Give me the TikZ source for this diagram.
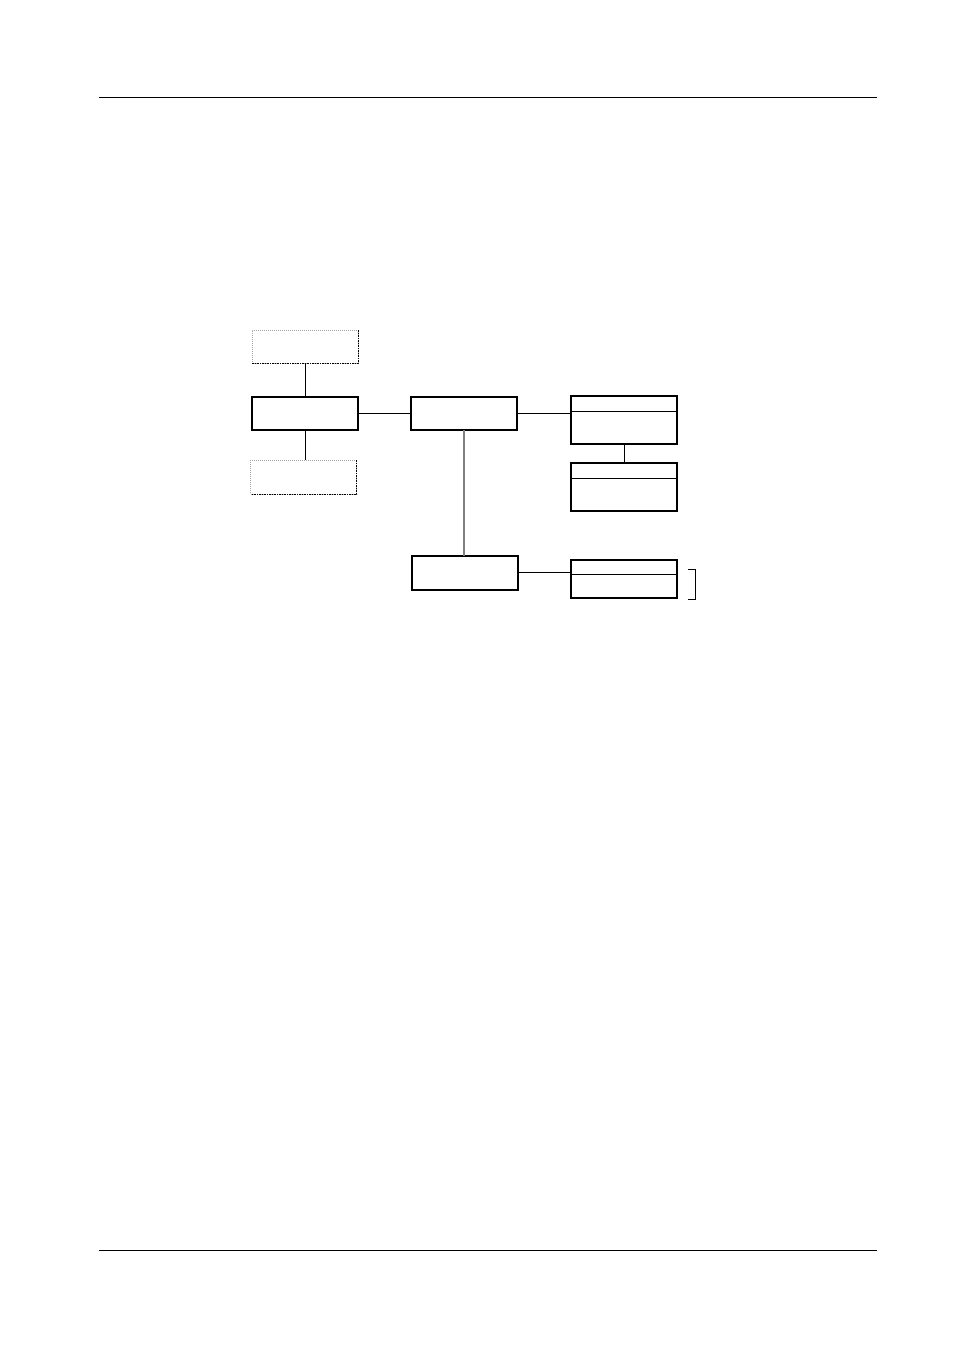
\documentclass[tikz,border=0pt]{standalone}
\usepackage{amsmath}
\usepackage{tikz}
\usetikzlibrary{arrows,positioning}

\tikzset{
  blockbox/.style={draw=black,line width=2pt,inner sep=0pt,outer sep=0pt,
    minimum width=106pt,minimum height=33pt},
  dotbox/.style={draw=gray!70,densely dotted,line width=1pt,inner sep=0pt,outer sep=0pt,
    minimum width=106pt,minimum height=33pt},
  dotedge/.style={color=black,dash pattern=on 1.5pt off 1pt,line width=1pt},
  link/.style={color=black,line width=1pt}
}

\begin{document}
\begin{tikzpicture}[x=1pt,y=-1pt]
        \useasboundingbox (0,0) rectangle (954,1351);
        % page rules
        \draw[link] (99,98) -- (877,98);
        \draw[link] (99,1250) -- (877,1250);

        \node[dotbox] (ctop) at (305,346.5) {};
        \node[blockbox] (main) at (305,413.5) {};
        \node[dotbox,minimum height=34pt] (cbot) at (303.5,477) {};
        \node[blockbox] (hub) at (464,413.5) {};
        \node[blockbox,minimum height=48pt] (upper) at (624,420) {};
        \node[blockbox,minimum height=48pt] (lower) at (624,487) {};
        \node[blockbox,minimum height=34pt] (sub) at (465,572.5) {};
        \node[blockbox,minimum height=38pt] (leaf) at (624,579) {};

        % dark edges of the dotted boxes
        \draw[dotedge] (ctop.north east) |- (ctop.south west);
        \draw[dotedge] (cbot.north east) |- (cbot.south west);

        % title bars
        \draw[link] ([yshift=-15pt]upper.north west) -- ([yshift=-15pt]upper.north east);
        \draw[link] ([yshift=-15.5pt]lower.north west) -- ([yshift=-15.5pt]lower.north east);
        \draw[link] ([yshift=-14pt]leaf.north west) -- ([yshift=-14pt]leaf.north east);

        \draw[link] (ctop.south) -- (main.north);
        \draw[link] (main.south) -- (main.south |- cbot.north);
        \draw[link] (main.east) -- (hub.west);
        \draw[link] (hub.east) -- (hub.east -| upper.west);
        \draw[link] (upper.south) -- (lower.north);
        \draw[color=gray,line width=1.4pt] (hub.south) -- (hub.south |- sub.north);
        \draw[link] (sub.east) -- (sub.east -| leaf.west);

        \draw[link] (688,569.5) -| (695,599.5) -- (688,599.5);
    \end{tikzpicture}
\end{document}
